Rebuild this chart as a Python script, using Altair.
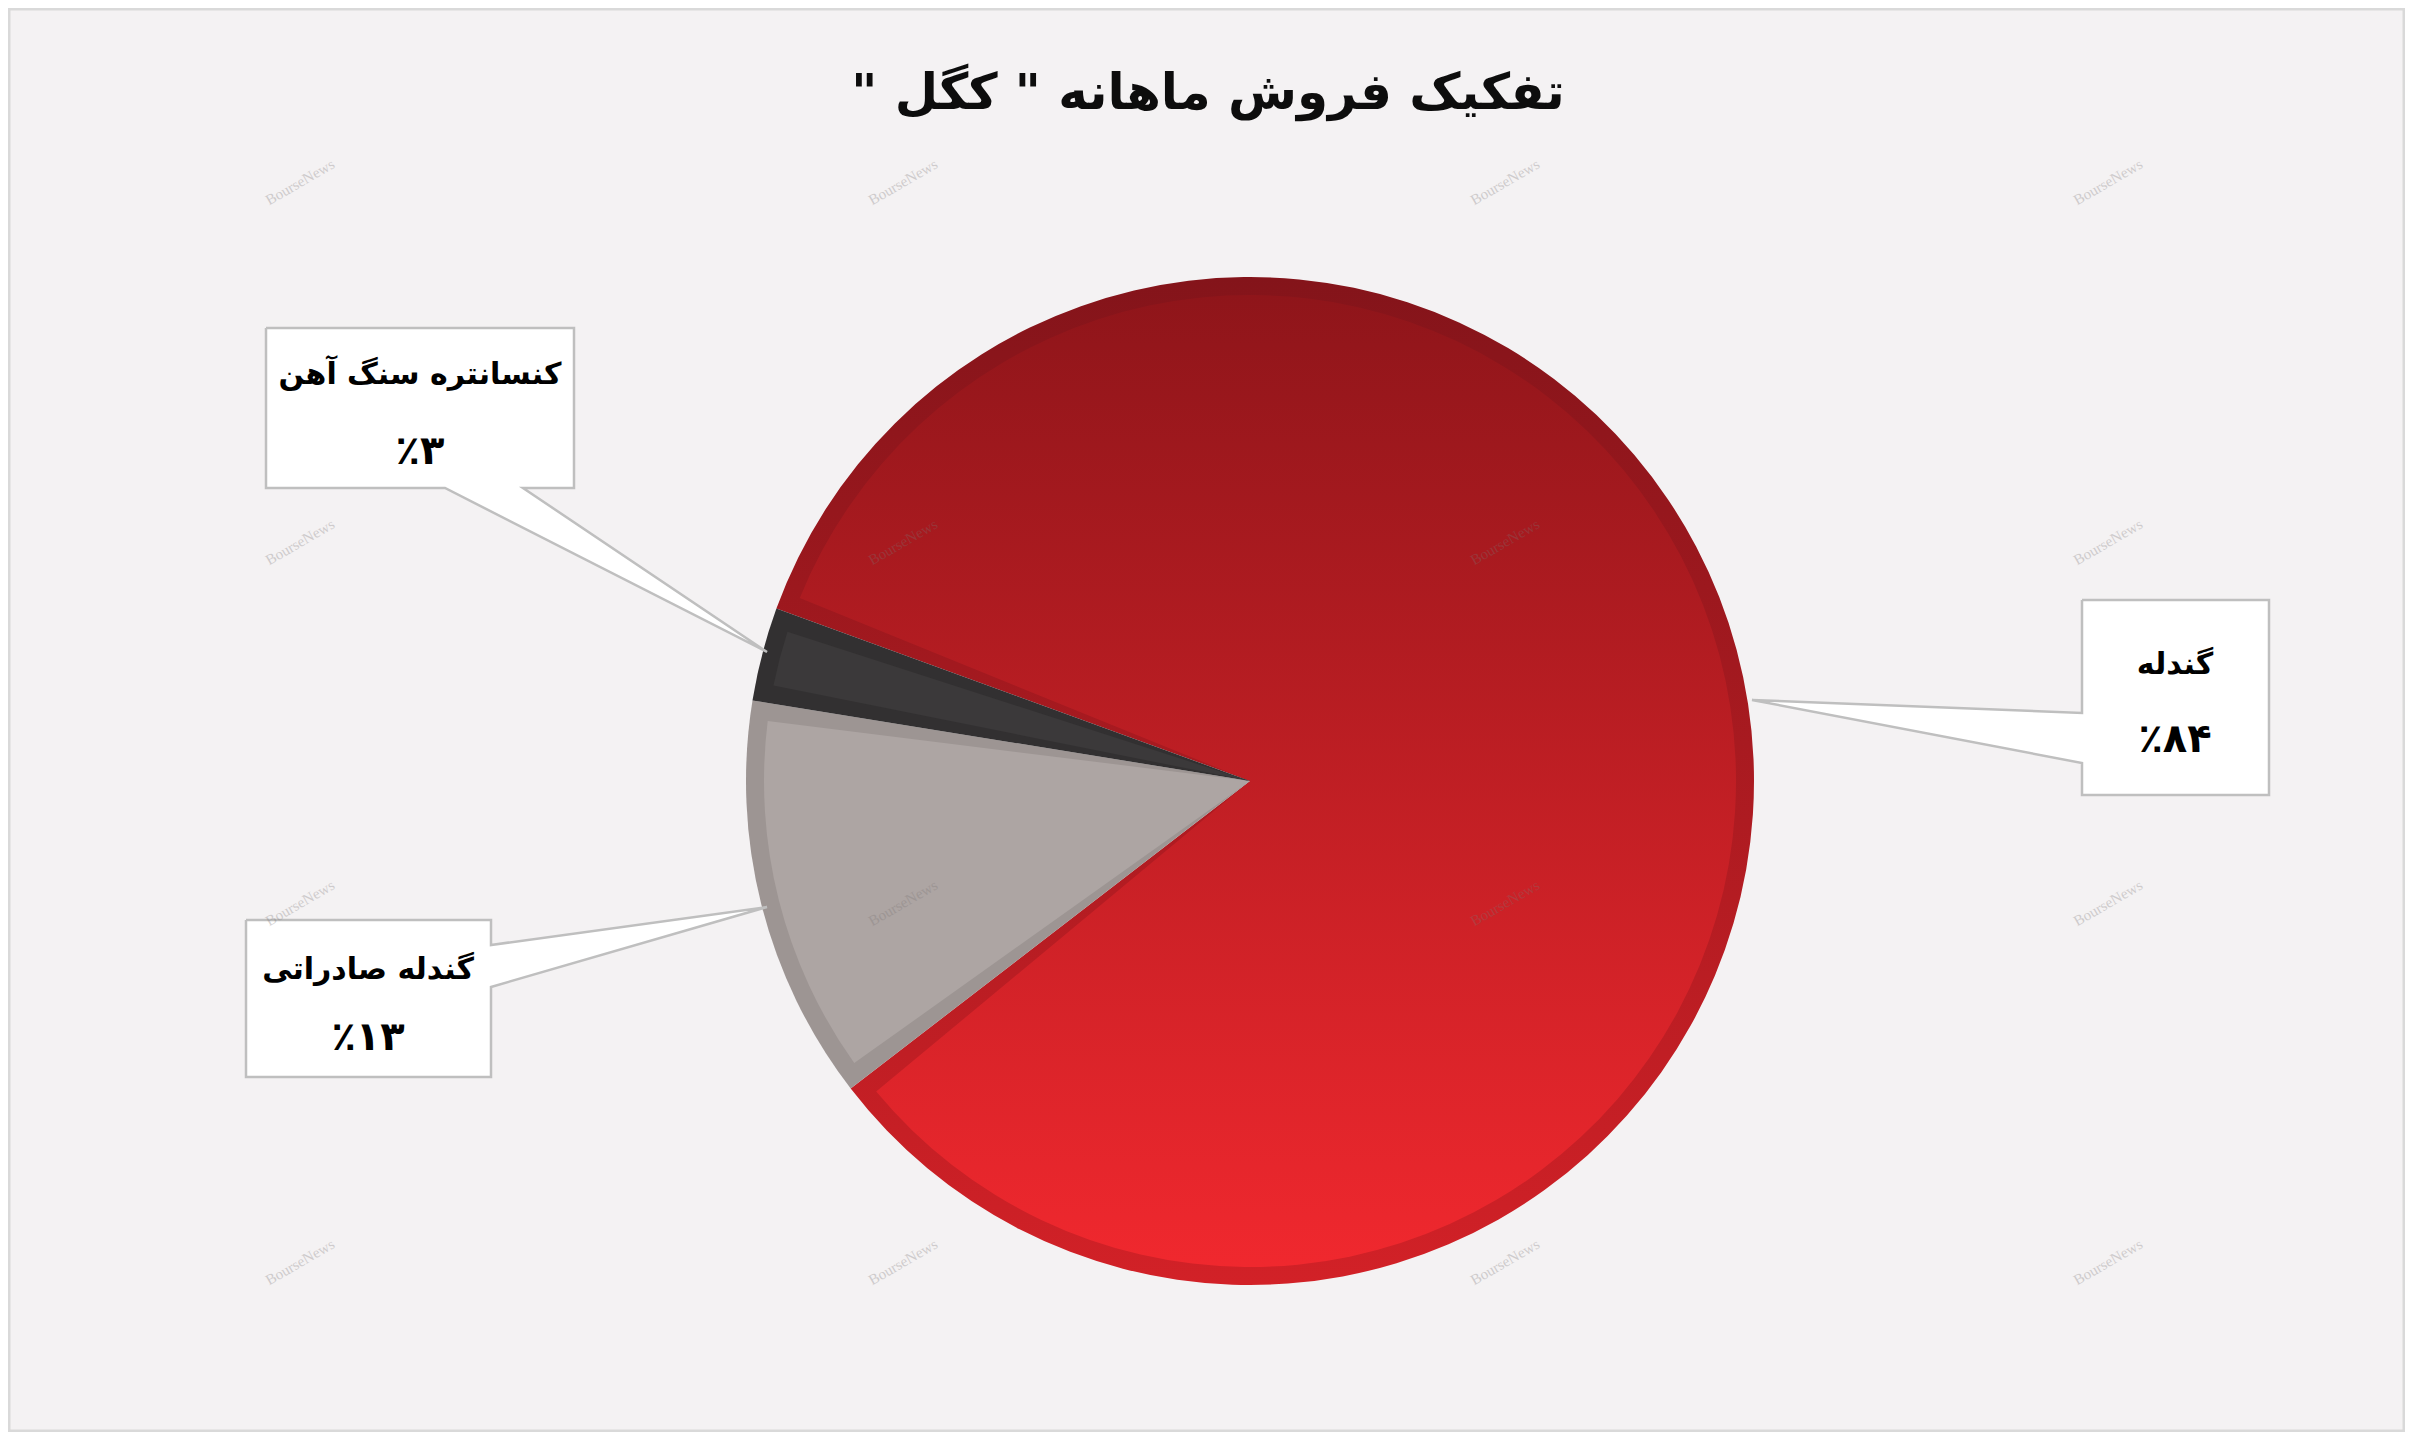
import math
import altair as alt
import pandas as pd

# ---------------- data ----------------
categories = ["گندله", "گندله صادراتی", "کنسانتره سنگ آهن"]
shares = [84, 13, 3]
pct_labels = ["٪۸۴", "٪۱۳", "٪۳"]
title_text = "\u200fتفکیک فروش ماهانه \" کگل \"\u200f"
watermark_text = "BourseNews"

# ---------------- layout (reference pixel coords) ----------------
OFF = 8
W, H = 2397, 1424
CX, CY, R = 1250, 781, 504
BORDER = 18
START_DEG = 290

inner_fill = {
    "گندله صادراتی": "#ada5a3",
    "کنسانتره سنگ آهن": "#3b393a",
}
outer_fill = {
    "گندله صادراتی": "#9d9593",
    "کنسانتره سنگ آهن": "#323031",
}
red_inner = {"gradient": "linear", "x1": 0, "y1": 0, "x2": 0, "y2": 1,
             "stops": [{"offset": 0, "color": "#8f151a"},
                       {"offset": 1, "color": "#f0282e"}]}
red_outer = {"gradient": "linear", "x1": 0, "y1": 0, "x2": 0, "y2": 1,
             "stops": [{"offset": 0, "color": "#84141a"},
                       {"offset": 1, "color": "#d22127"}]}

# callout bubble outlines (ref coords), one per category
bubbles = {
    "گندله": [(2082, 600), (2269, 600), (2269, 795), (2082, 795), (2082, 763),
              (1752, 700), (2082, 713), (2082, 600)],
    "گندله صادراتی": [(246, 920), (491, 920), (491, 945), (767, 907), (491, 987),
                      (491, 1077), (246, 1077), (246, 920)],
    "کنسانتره سنگ آهن": [(266, 328), (574, 328), (574, 488), (523, 488), (767, 652),
                         (445, 488), (266, 488), (266, 328)],
}
label_pos = {
    "گندله": (2175, 665, 740),
    "گندله صادراتی": (368, 970, 1038),
    "کنسانتره سنگ آهن": (420, 375, 452),
}
wm_x = [300, 903, 1505, 2108]
wm_y = [182, 542, 903, 1262]

FONT = "DejaVu Sans"

# ---------------- tables ----------------
df = pd.DataFrame({"category": categories, "value": shares,
                   "order": list(range(len(categories)))})

start = math.radians(START_DEG)
theta_scale = alt.Scale(domain=[0, 100], range=[start, start + 2 * math.pi])

base = (alt.Chart(df)
        .transform_window(cum="sum(value)", frame=[None, 0],
                          sort=[alt.SortField("order")])
        .transform_calculate(start="datum.cum - datum.value"))

arc_enc = dict(theta=alt.Theta("start:Q", scale=theta_scale),
               theta2="cum:Q",
               x=alt.value(CX - OFF), y=alt.value(CY - OFF))

layers = []
for cat in categories:
    if cat == "گندله":
        of, inf = red_outer, red_inner
    else:
        of, inf = outer_fill[cat], inner_fill[cat]
    layers.append(base.transform_filter(alt.datum.category == cat)
                  .mark_arc(radius=R, fill=of).encode(**arc_enc))
    pad = 2 * BORDER / (R - BORDER)
    layers.append(base.transform_filter(alt.datum.category == cat)
                  .mark_arc(radius=R - BORDER, padAngle=pad, fill=inf)
                  .encode(**arc_enc))

xs = alt.Scale(domain=[0, W], range=[0, W], nice=False, zero=False)
ys = alt.Scale(domain=[0, H], range=[0, H], nice=False, zero=False)

rows = []
for cat, pts in bubbles.items():
    for k, (px, py) in enumerate(pts):
        rows.append({"cid": cat, "k": k, "px": px - OFF, "py": py - OFF})
bub_df = pd.DataFrame(rows)
bubble_layer = alt.Chart(bub_df).mark_line(
    fill="white", stroke="#bfbfbf", strokeWidth=2.5, strokeJoin="miter"
).encode(
    x=alt.X("px:Q", scale=xs, axis=None),
    y=alt.Y("py:Q", scale=ys, axis=None),
    order="k:Q", detail="cid:N")

lab_df = pd.DataFrame({
    "name": categories,
    "pct": pct_labels,
    "lx": [label_pos[c][0] - OFF for c in categories],
    "ly1": [label_pos[c][1] - OFF for c in categories],
    "ly2": [label_pos[c][2] - OFF for c in categories],
})
name_layer = alt.Chart(lab_df).mark_text(
    font=FONT, fontWeight="bold", fontSize=30, color="#000000",
    align="center", baseline="middle"
).encode(x=alt.X("lx:Q", scale=xs, axis=None),
         y=alt.Y("ly1:Q", scale=ys, axis=None), text="name:N")
pct_layer = alt.Chart(lab_df).mark_text(
    font=FONT, fontWeight="bold", fontSize=40, color="#000000",
    align="center", baseline="middle"
).encode(x=alt.X("lx:Q", scale=xs, axis=None),
         y=alt.Y("ly2:Q", scale=ys, axis=None), text="pct:N")

title_df = pd.DataFrame({"t": [title_text], "tx": [1208 - OFF], "ty": [94 - OFF]})
title_layer = alt.Chart(title_df).mark_text(
    font=FONT, fontWeight="bold", fontSize=50, color="#0d0d0d",
    align="center", baseline="middle"
).encode(x=alt.X("tx:Q", scale=xs, axis=None),
         y=alt.Y("ty:Q", scale=ys, axis=None), text="t:N")

wm_df = pd.DataFrame([{"wx": x - OFF, "wy": y - OFF, "w": watermark_text}
                      for y in wm_y for x in wm_x])
wm_layer = alt.Chart(wm_df).mark_text(
    font="Liberation Serif", fontSize=15, angle=330, color="#7a7474",
    opacity=0.3, align="center", baseline="middle"
).encode(x=alt.X("wx:Q", scale=xs, axis=None),
         y=alt.Y("wy:Q", scale=ys, axis=None), text="w:N")

frame_layer = alt.Chart(pd.DataFrame({"a": [0]})).mark_rect(
    fillOpacity=0, stroke="#d9d9d9", strokeWidth=3
).encode(x=alt.value(1), x2=alt.value(W - 1), y=alt.value(1), y2=alt.value(H - 1))

chart = alt.layer(
    *layers, bubble_layer, name_layer, pct_layer, title_layer, wm_layer, frame_layer
).properties(
    width=W, height=H, background="#f4f2f3",
    autosize=alt.AutoSizeParams(type="none"), padding=0
).configure_view(strokeWidth=0)

chart.save("out.html", embed_options={"renderer": "svg", "actions": False})
